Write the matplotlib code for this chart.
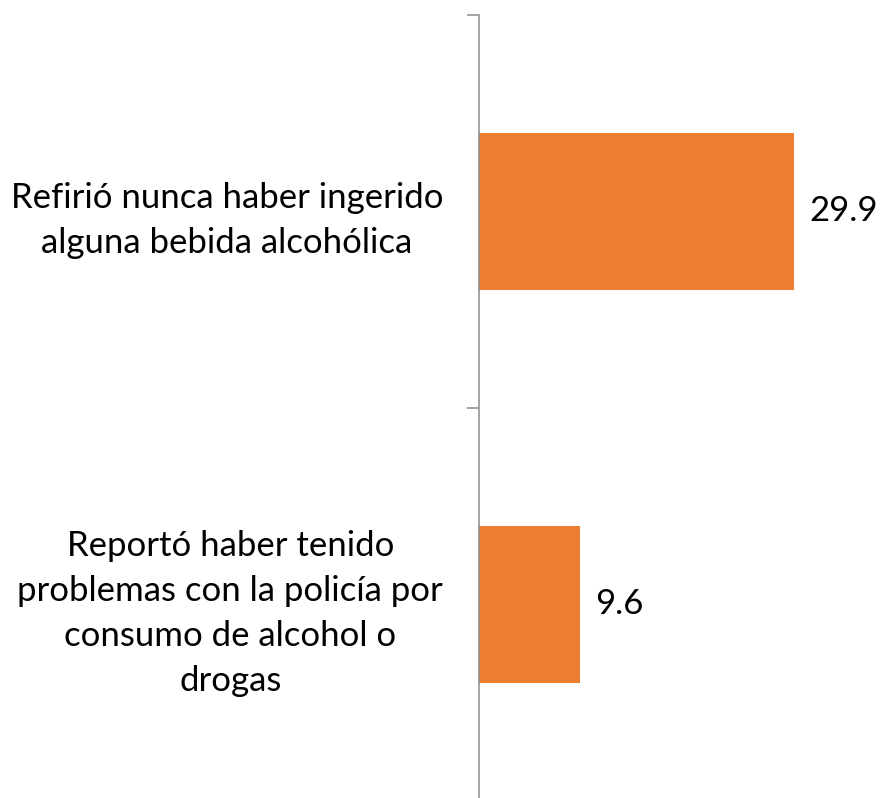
import matplotlib
matplotlib.use("Agg")
import matplotlib.pyplot as plt
from matplotlib.ticker import FixedLocator

categories = [
    "Refirió nunca haber ingerido\nalguna bebida alcohólica",
    "Reportó haber tenido\nproblemas con la policía por\nconsumo de alcohol o\ndrogas",
]
values = [29.9, 9.6]
value_labels = ["29.9", "9.6"]

plt.rcParams['font.family'] = ['Lato', 'DejaVu Sans']

fig = plt.figure(figsize=(8.8, 7.98), dpi=100)
W, H = 880, 798
left_px, top_px, bottom_px = 478.5, 15, 801
ax = fig.add_axes([left_px / W, 1 - bottom_px / H, (W - left_px) / W, (bottom_px - top_px) / H])

pos = list(range(len(categories)))
ax.barh(pos, values, height=0.4, color='#ED7D31')
ax.set_xlim(0, 38.0)
ax.set_ylim(len(categories) - 0.5, -0.5)

for p, v, t in zip(pos, values, value_labels):
    ax.annotate(t, xy=(v, p), xytext=(11, 0), textcoords='offset points',
                va='center', ha='left', fontsize=25, color='#000000')

for s in ['top', 'right', 'bottom']:
    ax.spines[s].set_visible(False)
ax.spines['left'].set_color('#8c8c8c')
ax.spines['left'].set_linewidth(1.1)
ax.xaxis.set_visible(False)

bounds = [p - 0.5 for p in pos] + [pos[-1] + 0.5]
ax.yaxis.set_major_locator(FixedLocator(bounds))
ax.yaxis.set_minor_locator(FixedLocator(pos))
ax.set_yticklabels([''] * len(bounds))
ax.set_yticks(pos, minor=True)
ax.set_yticklabels(categories, minor=True, fontsize=25, multialignment='center',
                   linespacing=1.5)
ax.tick_params(axis='y', which='major', direction='out', length=8.6, width=1.1, color='#8c8c8c')
ax.tick_params(axis='y', which='minor', length=0, pad=25.5)

fig.savefig('out.png', dpi=100)
